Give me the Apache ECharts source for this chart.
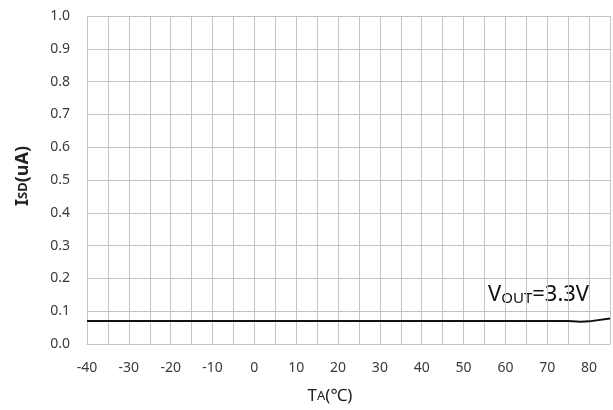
<!DOCTYPE html>
<html><head><meta charset="utf-8">
<script src="https://cdn.jsdelivr.net/npm/echarts@6/dist/echarts.min.js"></script>
<style>html,body{margin:0;padding:0;background:#fff}#c{width:613px;height:410px}</style>
</head><body><div id="c"></div>
<script>
const temps = [-40,-35,-30,-25,-20,-15,-10,-5,0,5,10,15,20,25,30,35,40,45,50,55,60,65,70,75,78,80,85];
const isd   = [0.07,0.07,0.07,0.07,0.07,0.07,0.07,0.07,0.07,0.07,0.07,0.07,0.07,0.07,0.07,0.07,0.07,0.07,0.07,0.07,0.07,0.07,0.07,0.07,0.068,0.069,0.078];
const xTicks = [-40,-30,-20,-10,0,10,20,30,40,50,60,70,80];
const yTicks = [0,0.1,0.2,0.3,0.4,0.5,0.6,0.7,0.8,0.9,1.0];

const chart = echarts.init(document.getElementById('c'));
const gridCol = '#c4c4c4';
const font = '"Noto Sans", sans-serif';
chart.setOption({
  animation:false,
  grid:{left:87,right:2,top:16,bottom:66},
  xAxis:{type:'value',min:-40,max:85,interval:5,
    axisLine:{lineStyle:{color:gridCol}},axisTick:{show:false},
    splitLine:{lineStyle:{color:gridCol,width:1}},
    axisLabel:{margin:17,color:'#3a3a3a',fontFamily:font,fontSize:14,
      formatter:v=>xTicks.includes(v)?String(v):''}},
  yAxis:{type:'value',min:0,max:1,interval:0.1,
    axisLine:{show:true,lineStyle:{color:gridCol}},axisTick:{show:false},
    splitLine:{lineStyle:{color:gridCol,width:1}},
    axisLabel:{margin:17,color:'#3a3a3a',fontFamily:font,fontSize:14,
      formatter:v=>{const t=yTicks.find(y=>Math.abs(y-v)<1e-9);return t===undefined?'':t.toFixed(1);}}},
  series:[{type:'line',data:temps.map((t,i)=>[t,isd[i]]),showSymbol:false,
    lineStyle:{color:'#111',width:2}}],
  graphic:[
    {type:'text',left:488,top:284,style:{
      text:'{a|V}{b|OUT}{a|=3.3V}',fill:'#111',
      rich:{a:{fontSize:22,fontFamily:font,fill:'#111'},b:{fontSize:15,fontFamily:font,fill:'#111',verticalAlign:'bottom'}}}},
    {type:'text',x:330,y:396,style:{
      text:'{a|T}{b|A}{a|(℃)}',align:'center',verticalAlign:'middle',
      rich:{a:{fontSize:17,fontFamily:font,fill:'#222'},b:{fontSize:13,fontFamily:font,fill:'#222'}}}},
    {type:'text',x:23,y:176,rotation:Math.PI/2,style:{
      text:'{a|I}{b|SD}{a|(uA)}',align:'center',verticalAlign:'middle',
      rich:{a:{fontSize:18,fontFamily:font,fill:'#222',fontWeight:'bold'},b:{fontSize:13,fontFamily:font,fill:'#222',fontWeight:'bold'}}}}
  ]
});
</script></body></html>
